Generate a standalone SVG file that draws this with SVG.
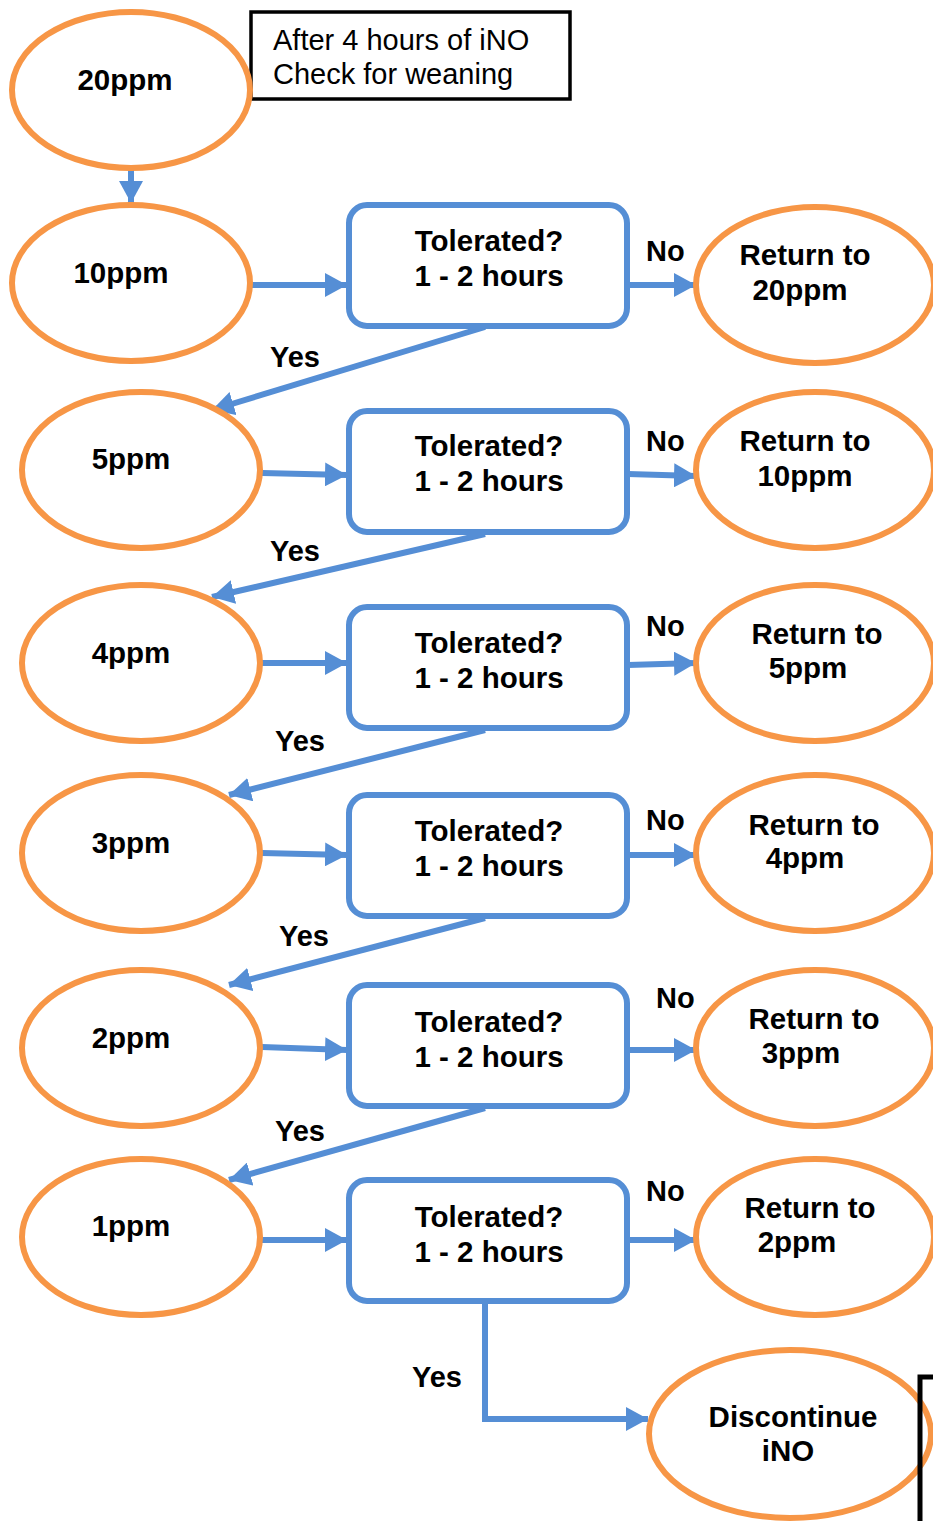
<svg xmlns="http://www.w3.org/2000/svg" width="933" height="1521" viewBox="0 0 933 1521">
<style>
.ell{fill:#fff;stroke:#F79646;stroke-width:6}
.box{fill:#fff;stroke:#558ED5;stroke-width:6}
.c{fill:none;stroke:#558ED5;stroke-width:6}
.t{font-family:"Liberation Sans",Arial,sans-serif;font-weight:bold;font-size:29.5px;fill:#000;text-anchor:middle}
.l{font-family:"Liberation Sans",Arial,sans-serif;font-weight:bold;font-size:29px;fill:#000}
.n{font-family:"Liberation Sans",Arial,sans-serif;font-size:29px;fill:#000}
</style>
<defs>
<marker id="ah" markerUnits="userSpaceOnUse" markerWidth="24" markerHeight="24" refX="22" refY="12" orient="auto" viewBox="0 0 24 24">
<path d="M0,0 L22,12 L0,24 Z" fill="#558ED5"/>
</marker>
</defs>
<rect width="933" height="1521" fill="#fff"/>
<g id="connectors">
<line class="c" x1="131" y1="170" x2="131" y2="203" marker-end="url(#ah)"/>
<line class="c" x1="252" y1="285" x2="347" y2="285" marker-end="url(#ah)"/>
<line class="c" x1="262" y1="473" x2="347" y2="475" marker-end="url(#ah)"/>
<line class="c" x1="262" y1="663" x2="347" y2="663" marker-end="url(#ah)"/>
<line class="c" x1="262" y1="853" x2="347" y2="855" marker-end="url(#ah)"/>
<line class="c" x1="262" y1="1047" x2="347" y2="1050" marker-end="url(#ah)"/>
<line class="c" x1="262" y1="1240" x2="347" y2="1240" marker-end="url(#ah)"/>
<line class="c" x1="628" y1="285" x2="696" y2="285" marker-end="url(#ah)"/>
<line class="c" x1="628" y1="474" x2="696" y2="476" marker-end="url(#ah)"/>
<line class="c" x1="628" y1="665" x2="696" y2="663" marker-end="url(#ah)"/>
<line class="c" x1="628" y1="855" x2="696" y2="855" marker-end="url(#ah)"/>
<line class="c" x1="628" y1="1050" x2="696" y2="1050" marker-end="url(#ah)"/>
<line class="c" x1="628" y1="1240" x2="696" y2="1240" marker-end="url(#ah)"/>
<line class="c" x1="485" y1="327" x2="212" y2="410" marker-end="url(#ah)"/>
<line class="c" x1="485" y1="534" x2="212" y2="597" marker-end="url(#ah)"/>
<line class="c" x1="485" y1="730" x2="229" y2="795" marker-end="url(#ah)"/>
<line class="c" x1="485" y1="918" x2="229" y2="985" marker-end="url(#ah)"/>
<line class="c" x1="485" y1="1108" x2="229" y2="1180" marker-end="url(#ah)"/>
<polyline class="c" points="485,1302 485,1419 648,1419" marker-end="url(#ah)"/>
<text class="l" x="646" y="261">No</text>
<text class="l" x="646" y="451">No</text>
<text class="l" x="646" y="636">No</text>
<text class="l" x="646" y="830">No</text>
<text class="l" x="656" y="1008">No</text>
<text class="l" x="646" y="1201">No</text>
<text class="l" x="270" y="367">Yes</text>
<text class="l" x="270" y="561">Yes</text>
<text class="l" x="275" y="751">Yes</text>
<text class="l" x="279" y="946">Yes</text>
<text class="l" x="275" y="1141">Yes</text>
<text class="l" x="412" y="1387">Yes</text>
</g>
<g id="note">
<rect x="251" y="12" width="319" height="87" fill="#fff" stroke="#000" stroke-width="3.5"/>
<text class="n" x="273" y="50">After 4 hours of iNO</text>
<text class="n" x="273" y="84">Check for weaning</text>
</g>
<g id="n20"><ellipse class="ell" cx="131" cy="90" rx="119" ry="78"/><text class="t" x="125" y="90">20ppm</text></g>
<g id="n10"><ellipse class="ell" cx="131" cy="283" rx="119" ry="78"/><text class="t" x="121" y="283">10ppm</text></g>
<g id="n5"><ellipse class="ell" cx="141" cy="470" rx="119" ry="78"/><text class="t" x="131" y="469">5ppm</text></g>
<g id="n4"><ellipse class="ell" cx="141" cy="663" rx="119" ry="78"/><text class="t" x="131" y="663">4ppm</text></g>
<g id="n3"><ellipse class="ell" cx="141" cy="853" rx="119" ry="78"/><text class="t" x="131" y="853">3ppm</text></g>
<g id="n2"><ellipse class="ell" cx="141" cy="1048" rx="119" ry="78"/><text class="t" x="131" y="1048">2ppm</text></g>
<g id="n1"><ellipse class="ell" cx="141" cy="1237" rx="119" ry="78"/><text class="t" x="131" y="1236">1ppm</text></g>
<g id="q1"><rect class="box" x="349" y="205" width="278" height="121" rx="18"/><text class="t" x="489" y="251">Tolerated?</text><text class="t" x="489" y="286">1 - 2 hours</text></g>
<g id="q2"><rect class="box" x="349" y="411" width="278" height="121" rx="18"/><text class="t" x="489" y="456">Tolerated?</text><text class="t" x="489" y="491">1 - 2 hours</text></g>
<g id="q3"><rect class="box" x="349" y="607" width="278" height="121" rx="18"/><text class="t" x="489" y="653">Tolerated?</text><text class="t" x="489" y="688">1 - 2 hours</text></g>
<g id="q4"><rect class="box" x="349" y="795" width="278" height="121" rx="18"/><text class="t" x="489" y="841">Tolerated?</text><text class="t" x="489" y="876">1 - 2 hours</text></g>
<g id="q5"><rect class="box" x="349" y="985" width="278" height="121" rx="18"/><text class="t" x="489" y="1032">Tolerated?</text><text class="t" x="489" y="1067">1 - 2 hours</text></g>
<g id="q6"><rect class="box" x="349" y="1180" width="278" height="121" rx="18"/><text class="t" x="489" y="1227">Tolerated?</text><text class="t" x="489" y="1262">1 - 2 hours</text></g>
<g id="r20"><ellipse class="ell" cx="815" cy="285" rx="119" ry="78"/><text class="t" x="805" y="265">Return to</text><text class="t" x="800" y="300">20ppm</text></g>
<g id="r10"><ellipse class="ell" cx="815" cy="470" rx="119" ry="78"/><text class="t" x="805" y="451">Return to</text><text class="t" x="805" y="486">10ppm</text></g>
<g id="r5"><ellipse class="ell" cx="815" cy="663" rx="119" ry="78"/><text class="t" x="817" y="644">Return to</text><text class="t" x="808" y="678">5ppm</text></g>
<g id="r4"><ellipse class="ell" cx="815" cy="853" rx="119" ry="78"/><text class="t" x="814" y="835">Return to</text><text class="t" x="805" y="868">4ppm</text></g>
<g id="r3"><ellipse class="ell" cx="815" cy="1048" rx="119" ry="78"/><text class="t" x="814" y="1029">Return to</text><text class="t" x="801" y="1063">3ppm</text></g>
<g id="r2"><ellipse class="ell" cx="815" cy="1237" rx="119" ry="78"/><text class="t" x="810" y="1218">Return to</text><text class="t" x="797" y="1252">2ppm</text></g>
<g id="disc"><ellipse class="ell" cx="790" cy="1434" rx="141" ry="84"/><text class="t" x="793" y="1427">Discontinue</text><text class="t" x="788" y="1461">iNO</text></g>
<polyline points="920,1521 920,1377 933,1377" fill="none" stroke="#000" stroke-width="5"/>
</svg>
